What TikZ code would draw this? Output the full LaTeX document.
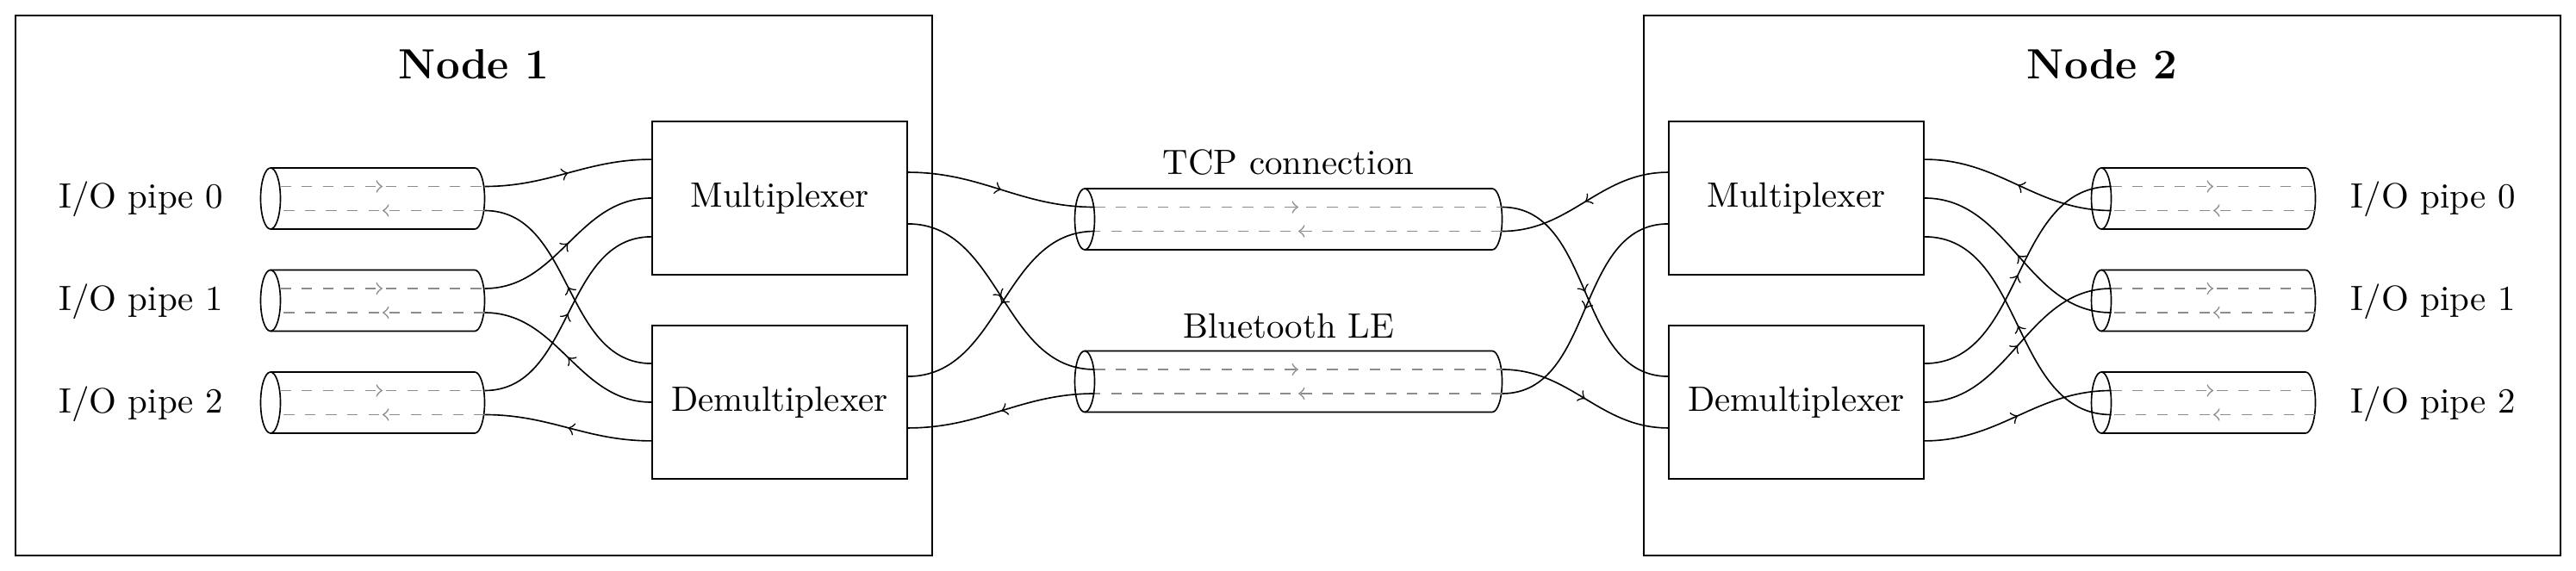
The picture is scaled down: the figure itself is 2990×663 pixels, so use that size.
\documentclass[tikz,border=0pt]{standalone}
\usetikzlibrary{calc,decorations.markings}
\def\u{0.2445pt}
\tikzset{
  frame/.style={draw, minimum width=1064*\u, minimum height=627*\u, inner sep=0},
  box/.style={draw, minimum width=296*\u, minimum height=178*\u, inner sep=0},
  pipe/.style={minimum height=71*\u, inner sep=0, outer sep=0},
  conn/.style={postaction={decorate}, decoration={markings, mark=at position 0.5 with {\arrow{>}}}},
  lane/.style={black!45, dashed, postaction={decorate}, decoration={markings, mark=at position 0.5 with {\arrow[black!45]{>}}}},
  >=to
}
\newcommand\mypipe[1]{%
  \draw (#1.west) ellipse [x radius=11.5, y radius=35.5];
  \draw (#1.north west) -- (#1.north east) arc [start angle=90, end angle=-90, x radius=11.5, y radius=35.5] -- (#1.south west);
  \draw[lane] ($(#1.west)+(11.5,14)$) -- ($(#1.east)+(11.5,14)$);
  \draw[lane] ($(#1.east)+(11.5,-14)$) -- ($(#1.west)+(11.5,-14)$);
}
\begin{document}
\begin{tikzpicture}[x=0.2445pt, y=0.2445pt]
\useasboundingbox (0,0) rectangle (2990,-663);
% frames
\node[frame] (n1) at (550,-331.5) {};
\node[frame] (n2) at (2440,-331.5) {};
\node[font=\large\bfseries, anchor=base] (t1) at (550,-92) {Node 1};
\node[font=\large\bfseries, anchor=base] (t2) at (2440,-92) {Node 2};
% boxes
\node[box] (mux1) at (905,-230) {Multiplexer};
\node[box] (dem1) at (905,-467) {Demultiplexer};
\node[box] (mux2) at (2085,-230) {Multiplexer};
\node[box] (dem2) at (2085,-467) {Demultiplexer};
% pipes
\node[pipe, minimum width=237*\u] (p0) at (432.5,-230.5) {};
\node[pipe, minimum width=237*\u] (p1) at (432.5,-349) {};
\node[pipe, minimum width=237*\u] (p2) at (432.5,-467.5) {};
\node[pipe, minimum width=237*\u] (q0) at (2557.5,-230.5) {};
\node[pipe, minimum width=237*\u] (q1) at (2557.5,-349) {};
\node[pipe, minimum width=237*\u] (q2) at (2557.5,-467.5) {};
\node[pipe, minimum width=473*\u] (tcp) at (1495.5,-254.5) {};
\node[pipe, minimum width=473*\u] (ble) at (1495.5,-443) {};
\mypipe{p0}\mypipe{p1}\mypipe{p2}
\mypipe{q0}\mypipe{q1}\mypipe{q2}
\mypipe{tcp}\mypipe{ble}
% labels
\node[anchor=base east, inner sep=0] (lp0) at (260,-242) {I/O pipe 0};
\node[anchor=base east, inner sep=0] (lp1) at (260,-360.5) {I/O pipe 1};
\node[anchor=base east, inner sep=0] (lp2) at (260,-479) {I/O pipe 2};
\node[anchor=base west, inner sep=0] (lq0) at (2728,-242) {I/O pipe 0};
\node[anchor=base west, inner sep=0] (lq1) at (2728,-360.5) {I/O pipe 1};
\node[anchor=base west, inner sep=0] (lq2) at (2728,-479) {I/O pipe 2};
\node[anchor=base] (ltcp) at (1495.5,-203) {TCP connection};
\node[anchor=base] (lble) at (1495.5,-393) {Bluetooth LE};
% node 1: pipes <-> mux/demux
\draw[conn] ($(p0.east)+(11.5,14)$) to[out=0,in=180] ($(mux1.north west)!0.25!(mux1.south west)$);
\draw[conn] ($(p1.east)+(11.5,14)$) to[out=0,in=180] ($(mux1.north west)!0.5!(mux1.south west)$);
\draw[conn] ($(p2.east)+(11.5,14)$) to[out=0,in=180] ($(mux1.north west)!0.75!(mux1.south west)$);
\draw[conn] ($(dem1.north west)!0.25!(dem1.south west)$) to[out=180,in=0] ($(p0.east)+(11.5,-14)$);
\draw[conn] ($(dem1.north west)!0.5!(dem1.south west)$) to[out=180,in=0] ($(p1.east)+(11.5,-14)$);
\draw[conn] ($(dem1.north west)!0.75!(dem1.south west)$) to[out=180,in=0] ($(p2.east)+(11.5,-14)$);
% node 1 <-> links
\draw[conn] ($(mux1.north east)!0.3333!(mux1.south east)$) to[out=0,in=180] ($(tcp.west)+(11.5,14)$);
\draw[conn] ($(mux1.north east)!0.6667!(mux1.south east)$) to[out=0,in=180] ($(ble.west)+(11.5,14)$);
\draw[conn] ($(tcp.west)+(11.5,-14)$) to[out=180,in=0] ($(dem1.north east)!0.3333!(dem1.south east)$);
\draw[conn] ($(ble.west)+(11.5,-14)$) to[out=180,in=0] ($(dem1.north east)!0.6667!(dem1.south east)$);
% links <-> node 2
\draw[conn] ($(tcp.east)+(11.5,14)$) to[out=0,in=180] ($(dem2.north west)!0.3333!(dem2.south west)$);
\draw[conn] ($(ble.east)+(11.5,14)$) to[out=0,in=180] ($(dem2.north west)!0.6667!(dem2.south west)$);
\draw[conn] ($(mux2.north west)!0.3333!(mux2.south west)$) to[out=180,in=0] ($(tcp.east)+(11.5,-14)$);
\draw[conn] ($(mux2.north west)!0.6667!(mux2.south west)$) to[out=180,in=0] ($(ble.east)+(11.5,-14)$);
% node 2: mux/demux <-> pipes
\draw[conn] ($(dem2.north east)!0.25!(dem2.south east)$) to[out=0,in=180] ($(q0.west)+(11.5,14)$);
\draw[conn] ($(dem2.north east)!0.5!(dem2.south east)$) to[out=0,in=180] ($(q1.west)+(11.5,14)$);
\draw[conn] ($(dem2.north east)!0.75!(dem2.south east)$) to[out=0,in=180] ($(q2.west)+(11.5,14)$);
\draw[conn] ($(q0.west)+(11.5,-14)$) to[out=180,in=0] ($(mux2.north east)!0.25!(mux2.south east)$);
\draw[conn] ($(q1.west)+(11.5,-14)$) to[out=180,in=0] ($(mux2.north east)!0.5!(mux2.south east)$);
\draw[conn] ($(q2.west)+(11.5,-14)$) to[out=180,in=0] ($(mux2.north east)!0.75!(mux2.south east)$);
\end{tikzpicture}
\end{document}
